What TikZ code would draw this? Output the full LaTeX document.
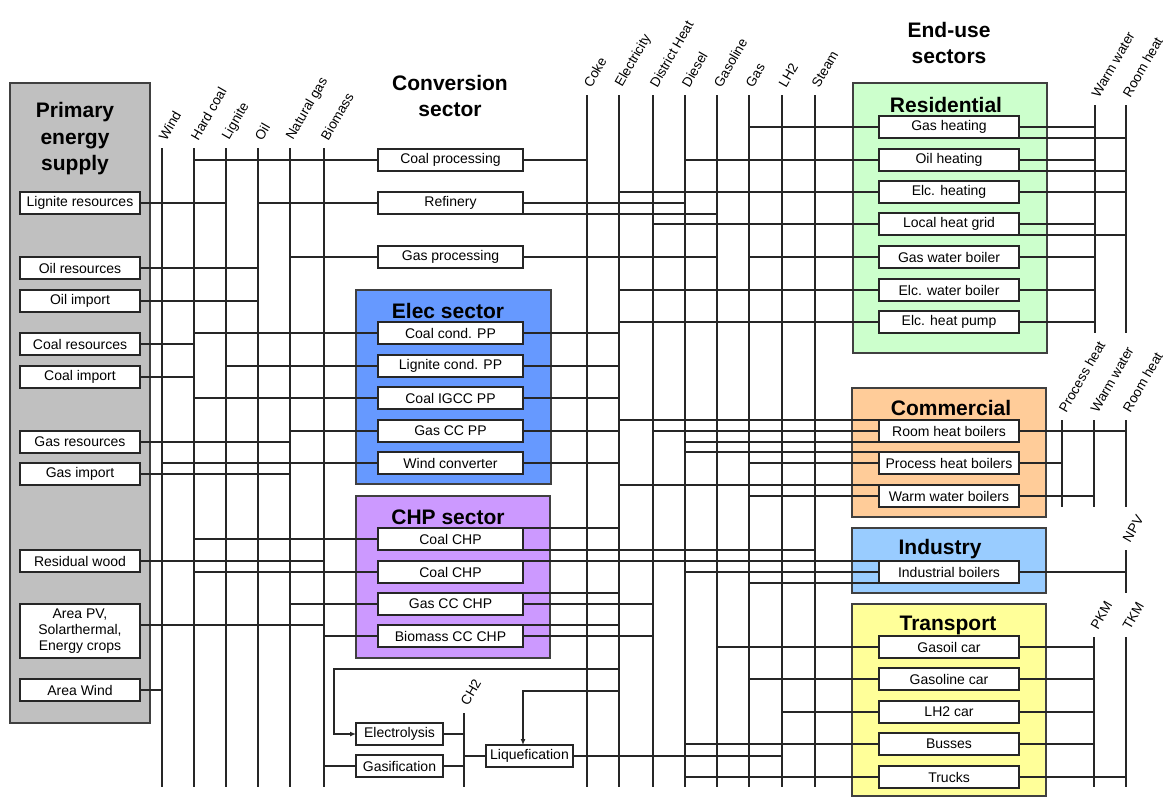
\documentclass[tikz,border=0pt]{standalone}
\usepackage{fontspec}
\setmainfont{Liberation Sans}
\usetikzlibrary{arrows.meta}
\definecolor{primgray}{HTML}{C0C0C0}
\definecolor{elecblue}{HTML}{6699FF}
\definecolor{chppurple}{HTML}{CC99FF}
\definecolor{resgreen}{HTML}{CCFFCC}
\definecolor{comorange}{HTML}{FFCC99}
\definecolor{indblue}{HTML}{99CCFF}
\definecolor{transyellow}{HTML}{FFFF99}

\begin{document}
\begin{tikzpicture}[
  x=1pt,
  y=-1pt,
  sector/.style={draw=black!75,line width=1.4pt},
  wire/.style={draw=black!85,line width=1.2pt},
  bus/.style={draw=black!85,line width=1.2pt},
  unit/.style={draw=black!85,fill=white,line width=1.4pt,outer sep=0pt,minimum height=22pt,inner sep=1pt,font=\fontsize{14}{16}\selectfont},
  pbox/.style={unit,minimum width=120pt},
  cbox/.style={unit,minimum width=145pt},
  ebox/.style={unit,minimum width=140pt},
  sbox/.style={unit,minimum width=87pt},
  lab/.style={font=\fontsize{13.5}{15}\selectfont,rotate=60,anchor=west,inner sep=0pt},
  head/.style={font=\fontsize{21}{26.5}\selectfont\bfseries,align=center},
  feed/.style={wire,-{Latex[length=6pt,width=5pt]}}
]
\useasboundingbox (0,0) rectangle (1165,798);

\path[sector,fill=primgray] (10,83) rectangle (150,723);
\path[sector,fill=elecblue] (356,290) rectangle (551,484);
\path[sector,fill=chppurple] (356,496) rectangle (550,658);
\path[sector,fill=resgreen] (853,83) rectangle (1047,353);
\path[sector,fill=comorange] (852,388) rectangle (1046,517);
\path[sector,fill=indblue] (852,528) rectangle (1046,593);
\path[sector,fill=transyellow] (852,604) rectangle (1046,796);

\node[head] (tprim) at (75,139) {Primary\\energy\\supply};
\node[head] (tconv) at (450,96) {Conversion\\sector};
\node[head] (tend) at (949,43) {End-use\\sectors};
\node[head] (telec) at (448,311) {Elec sector};
\node[head] (tchp) at (448,517) {CHP sector};
\node[head] (tres) at (946,105) {Residential};
\node[head] (tcom) at (951,408) {Commercial};
\node[head] (tind) at (940,549) {Industry};
\node[head] (ttrans) at (948,625) {Transport};

\foreach \nd/\y/\t in {ligres/203/Lignite resources, oilres/268/Oil resources,
  oilimp/301/Oil import, coalres/344/Coal resources, coalimp/377/Coal import,
  gasres/442/Gas resources, gasimp/474/Gas import, reswood/561/Residual wood,
  areawind/690/Area Wind}
  \node[pbox] (\nd) at (80,\y) {\t};
\node[pbox,minimum height=54pt,align=center] (area) at (80,631) {Area PV,\\Solarthermal,\\Energy crops};

\foreach \nd/\y/\t in {coalproc/160/Coal processing, refinery/203/Refinery,
  gasproc/257/Gas processing, coalcond/333/Coal cond. PP, ligcond/366/Lignite cond. PP,
  igcc/398/Coal IGCC PP, gasccpp/431/Gas CC PP, windconv/463/Wind converter,
  coalchpa/539/Coal CHP, coalchpb/572/Coal CHP, gaschp/604/Gas CC CHP,
  biochp/636/Biomass CC CHP}
  \node[cbox] (\nd) at (450.5,\y) {\t};

\foreach \nd/\y/\t in {gasheat/127/Gas heating, oilheat/160/Oil heating,
  elcheat/192/Elc. heating, heatgrid/224/Local heat grid, gasboil/257/Gas water boiler,
  elcboil/290/Elc. water boiler, heatpump/322/Elc. heat pump,
  roomboil/431/Room heat boilers, procboil/463/Process heat boilers,
  warmboil/496/Warm water boilers, indboil/572/Industrial boilers,
  gasoilcar/647/Gasoil car, petrolcar/679/Gasoline car, lhcar/712/LH2 car,
  busses/744/Busses, trucks/777/Trucks}
  \node[ebox] (\nd) at (949,\y) {\t};

\node[sbox] (electrolysis) at (399.5,734) {Electrolysis};
\node[sbox] (gasification) at (399.5,766) {Gasification};
\node[sbox] (liquef) at (529.5,756) {Liquefication};

\foreach \nd/\x/\ya/\yb/\t in {wind/162/148/787/Wind, hcoal/194/148/787/Hard coal,
  lignite/226/148/787/Lignite, oil/258/148/787/Oil, ngas/290/148/787/Natural gas,
  biomass/324/148/787/Biomass, coke/587/95/787/Coke, elec/619/95/787/Electricity,
  dheat/653/95/787/District Heat, diesel/685/95/787/Diesel, petrol/717/95/787/Gasoline,
  gas/749/95/787/Gas, lhtwo/782/95/787/LH2, steam/815/95/787/Steam,
  resww/1095/105/333/Warm water, resrh/1126/105/333/Room heat,
  comph/1062/420/507/Process heat, comww/1094/420/507/Warm water,
  comrh/1126/420/507/Room heat, npv/1126/550/593/NPV,
  pkm/1094/637/787/PKM, tkm/1126/637/787/TKM, chtwo/464/713/787/CH2} {
  \coordinate (\nd) at (\x,\ya);
  \draw[bus] (\nd) -- (\x,\yb);
  \node[lab] (l\nd) at ([yshift=9pt]\nd) {\t};
}

\foreach \bus/\tgt in {hcoal/coalproc.west, oil/refinery.west, ngas/gasproc.west,
  hcoal/coalcond.west, lignite/ligcond.west, hcoal/igcc.west, ngas/gasccpp.west,
  wind/windconv.west, hcoal/coalchpa.west, hcoal/coalchpb.west, ngas/gaschp.west,
  biomass/biochp.west, biomass/gasification.west, chtwo/liquef.west,
  gas/gasheat.west, diesel/oilheat.west, elec/elcheat.west, dheat/heatgrid.west,
  gas/gasboil.west, elec/elcboil.west, elec/heatpump.west,
  elec/roomboil.north west, dheat/roomboil.west, diesel/roomboil.south west,
  diesel/procboil.north west, gas/procboil.west, elec/warmboil.north west,
  gas/warmboil.west, diesel/indboil.west, gas/indboil.south west,
  petrol/gasoilcar.west, gas/petrolcar.west, lhtwo/lhcar.west,
  diesel/busses.west, diesel/trucks.west}
  \draw[wire] (\tgt -| \bus) -- (\tgt);

\foreach \src/\bus in {ligres.east/lignite, oilres.east/oil, oilimp.east/oil,
  coalres.east/hcoal, coalimp.east/hcoal, gasres.east/ngas, gasimp.east/ngas,
  reswood.east/biomass, areawind.east/wind, coalproc.east/coke,
  refinery.east/diesel, refinery.south east/petrol, gasproc.east/petrol,
  coalcond.east/elec, ligcond.east/elec, igcc.east/elec, gasccpp.east/elec,
  windconv.east/elec, coalchpa.north east/elec, coalchpa.south east/steam,
  gaschp.north east/elec, gaschp.east/dheat, biochp.north east/elec,
  biochp.east/dheat, electrolysis.east/chtwo, gasification.east/chtwo,
  liquef.east/lhtwo, gasheat.east/resww, gasheat.south east/resrh,
  oilheat.east/resww, oilheat.south east/resrh, elcheat.east/resrh,
  heatgrid.east/resww, heatgrid.south east/resrh, gasboil.east/resww,
  elcboil.east/resww, heatpump.east/resww, roomboil.east/comrh,
  procboil.east/comph, warmboil.east/comww, indboil.east/npv,
  gasoilcar.east/pkm, petrolcar.east/pkm, lhcar.east/pkm, busses.east/pkm,
  trucks.east/tkm}
  \draw[wire] (\src) -- (\src -| \bus);

\draw[wire] ([yshift=6pt]area.east) -- ([yshift=6pt]area.east -| biomass);
\draw[wire] (coalchpb.north east) -- (indboil.north west);
\coordinate (elbow) at (334,669);
\draw[feed] (elbow -| elec) -- (elbow) |- (electrolysis.west);
\coordinate (lqbend) at (523,691);
\draw[feed] (lqbend -| elec) -- (lqbend) -- (lqbend |- liquef.north);
\end{tikzpicture}
\end{document}
